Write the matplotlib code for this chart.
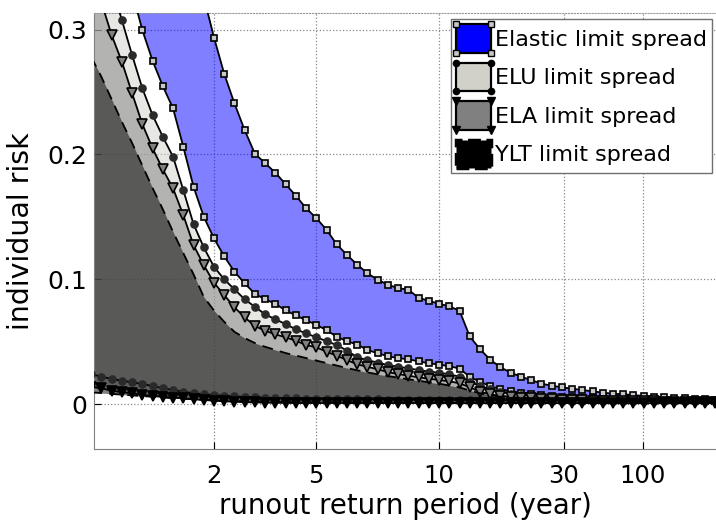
import numpy as np
import matplotlib
matplotlib.use("Agg")
import matplotlib.pyplot as plt
from matplotlib.patches import Rectangle
from matplotlib.lines import Line2D
from matplotlib.legend_handler import HandlerBase

plt.rcParams['font.family'] = ['DejaVu Sans']

# sample index along the runout axis (evenly spaced in the plot)
idx = np.arange(63)

# Elastic limit spread (upper / lower)
elastic_up = [0.60, 0.57, 0.54, 0.51, 0.48, 0.45, 0.42, 0.40, 0.38, 0.36, 0.345, 0.326,
              0.2936, 0.2645, 0.2408, 0.2194, 0.2005, 0.1930, 0.1853, 0.1762, 0.1669, 0.1570, 0.1490, 0.1397, 0.1280, 0.1195,
              0.1117, 0.1048, 0.0997, 0.0957, 0.0930, 0.0917, 0.0852, 0.0828, 0.0805, 0.0784, 0.0749, 0.0543, 0.0441,
              0.0357, 0.0296, 0.0253, 0.0221, 0.0194, 0.0165, 0.0149, 0.0136, 0.0125, 0.0114, 0.0104, 0.0093,
              0.0085, 0.0080, 0.0074, 0.0066, 0.0061, 0.0056, 0.0050, 0.0048, 0.0045, 0.0040, 0.0034, 0.0031]
elastic_lo = [0.42, 0.40, 0.38, 0.355, 0.33,
              0.2994, 0.2749, 0.2546, 0.2368, 0.2061, 0.1741, 0.1501, 0.1328, 0.1184,
              0.1061, 0.0968, 0.0884, 0.0840, 0.0804, 0.0751, 0.0712, 0.0672, 0.0637, 0.0593, 0.0541, 0.0505,
              0.0478, 0.0435, 0.0408, 0.0385, 0.0369, 0.0361, 0.0343, 0.0329, 0.0317, 0.0305, 0.0286,
              0.0220, 0.0180, 0.0145, 0.0120, 0.0105, 0.0093, 0.0083, 0.0075, 0.0068, 0.0062,
              0.0057, 0.0053, 0.0050, 0.0047, 0.0044, 0.0042, 0.0040, 0.0038, 0.0036, 0.0034,
              0.0033, 0.0032, 0.0031, 0.0030, 0.0029, 0.0028]

# ELU limit spread
elu_up = [0.385, 0.36, 0.335, 0.3074, 0.2794, 0.2528, 0.2314, 0.2141, 0.1981, 0.1714, 0.1442, 0.1256,
          0.110, 0.100, 0.092, 0.084, 0.078, 0.072, 0.068, 0.0642, 0.060, 0.0568, 0.0536, 0.0506, 0.0474,
          0.0430, 0.0376, 0.0354, 0.0333, 0.0314, 0.0301, 0.0288, 0.0274, 0.0261, 0.0253, 0.0240, 0.0221, 0.0181, 0.0146,
          0.0120, 0.0098, 0.0085, 0.0075, 0.0067, 0.0060, 0.0055, 0.0050, 0.0047, 0.0044, 0.0041, 0.0039,
          0.0037, 0.0035, 0.0033, 0.0032, 0.0031, 0.0030, 0.0029, 0.0028, 0.0027, 0.0026, 0.0025, 0.0025]
elu_lo = [0.0240, 0.0221, 0.0202, 0.0189, 0.0176, 0.0162, 0.0146, 0.0128, 0.0114, 0.0101, 0.0088,
          0.0080, 0.0074, 0.0068, 0.0063, 0.0059, 0.0056, 0.0053, 0.0051, 0.0049, 0.0047,
          0.0046, 0.0045, 0.0044, 0.0043, 0.0042, 0.0041, 0.0040, 0.0039, 0.0038, 0.0037,
          0.0036, 0.0036, 0.0035, 0.0034, 0.0034, 0.0033, 0.0033, 0.0032, 0.0032, 0.0031,
          0.0031, 0.0030, 0.0030, 0.0029, 0.0029, 0.0028, 0.0028, 0.0028, 0.0027, 0.0027,
          0.0027, 0.0026, 0.0026, 0.0026, 0.0025, 0.0025, 0.0025, 0.0024, 0.0024, 0.0024,
          0.0023, 0.0023]

# ELA limit spread
ela_up = [0.345, 0.3216, 0.2954, 0.2741, 0.2488, 0.2242, 0.2048, 0.1880, 0.1728, 0.1514, 0.1274,
          0.1114, 0.0973, 0.0874, 0.0776, 0.0696, 0.0626, 0.0589, 0.0560, 0.0536, 0.0509, 0.0474, 0.0456, 0.0421, 0.0389, 0.0354,
          0.032, 0.030, 0.028, 0.0258, 0.0242, 0.0229, 0.0216, 0.0205, 0.0194, 0.0184, 0.0168, 0.0136, 0.0101,
          0.0080, 0.0068, 0.0060, 0.0053, 0.0048, 0.0044, 0.0040, 0.0037, 0.0034, 0.0032, 0.0030, 0.0028,
          0.0027, 0.0026, 0.0025, 0.0024, 0.0023, 0.0022, 0.0022, 0.0021, 0.0021, 0.0020, 0.0020, 0.0020]
ela_lo = [0.0140, 0.0128, 0.0109, 0.0096, 0.0088, 0.0074, 0.0069, 0.0060, 0.0053, 0.0048, 0.0040,
          0.0034, 0.0029, 0.0024, 0.0020, 0.0017, 0.0015, 0.0013, 0.0012, 0.0011, 0.0010,
          0.0010, 0.0010, 0.0010, 0.0010, 0.0010, 0.0010, 0.0010, 0.0010, 0.0010, 0.0010,
          0.0010, 0.0010, 0.0010, 0.0010, 0.0010, 0.0009, 0.0009, 0.0009, 0.0009, 0.0009,
          0.0009, 0.0009, 0.0009, 0.0009, 0.0009, 0.0009, 0.0009, 0.0009, 0.0009, 0.0009,
          0.0008, 0.0008, 0.0008, 0.0008, 0.0008, 0.0008, 0.0008, 0.0008, 0.0008, 0.0008,
          0.0008, 0.0008]

# YLT limit spread
ylt_up = [0.278, 0.262, 0.244, 0.226, 0.209, 0.191, 0.173, 0.156, 0.138, 0.121, 0.104, 0.086,
          0.075, 0.066, 0.058, 0.053, 0.049,
          0.046, 0.0435, 0.041, 0.039, 0.037, 0.035, 0.033, 0.031, 0.029, 0.0272, 0.0255, 0.024,
          0.0226, 0.0213, 0.020, 0.0188, 0.0176, 0.0165, 0.015, 0.0135, 0.011, 0.0088, 0.0072, 0.006,
          0.0050, 0.0043, 0.0037, 0.0032, 0.0028, 0.0025, 0.0022, 0.0020, 0.0019, 0.0018, 0.0017,
          0.0016, 0.0016, 0.0015, 0.0015, 0.0014, 0.0014, 0.0013, 0.0013, 0.0013, 0.0012, 0.0012]
ylt_lo = [0.0095, 0.0090, 0.0083, 0.0077, 0.0071, 0.0065, 0.0060, 0.0054, 0.0049, 0.0044, 0.0040,
          0.0036, 0.0032, 0.0029, 0.0026, 0.0024, 0.0022, 0.0020, 0.0019, 0.0018, 0.0017,
          0.0016, 0.0016, 0.0016, 0.0015, 0.0015, 0.0015, 0.0014, 0.0014, 0.0014, 0.0014,
          0.0013, 0.0013, 0.0013, 0.0013, 0.0013, 0.0012, 0.0012, 0.0012, 0.0012, 0.0012,
          0.0012, 0.0011, 0.0011, 0.0011, 0.0011, 0.0011, 0.0011, 0.0011, 0.0011, 0.0010,
          0.0010, 0.0010, 0.0010, 0.0010, 0.0010, 0.0010, 0.0010, 0.0010, 0.0010, 0.0010,
          0.0010, 0.0010]

series_names = ["Elastic limit spread", "ELU limit spread", "ELA limit spread", "YLT limit spread"]
period_labels = ["2", "5", "10", "30", "100"]
period_pos = [12, 22, 34, 46.2, 53.9]
risk_ticks = [0, 0.1, 0.2, 0.3]
risk_labels = ["0", "0.1", "0.2", "0.3"]

blue = (0, 0, 1)
light = (0.82, 0.82, 0.79)
mid = (0.5, 0.5, 0.5)


class CornerHandler(HandlerBase):
    # legend patch with the line markers on its corners (matlab look)
    def __init__(self, fc, ls, marker, mfc, ms):
        super().__init__()
        self.fc, self.ls, self.marker, self.mfc, self.ms = fc, ls, marker, mfc, ms

    def create_artists(self, legend, orig_handle, xdescent, ydescent, width, height, fontsize, trans):
        x0, y0 = -xdescent, -ydescent
        r = Rectangle((x0, y0), width, height, facecolor=self.fc, edgecolor='k',
                      lw=1.6 if self.ls == '-' else 2.5, ls=self.ls, transform=trans)
        arts = [r]
        if self.marker:
            m = Line2D([x0, x0 + width, x0 + width, x0], [y0, y0, y0 + height, y0 + height],
                       ls='none', marker=self.marker, ms=self.ms, mfc=self.mfc, mec='k',
                       transform=trans)
            arts.append(m)
        return arts


fig = plt.figure(figsize=(7.16, 5.25), dpi=100)
ax = fig.add_axes([94 / 716, 76.5 / 525, 622 / 716, 435.1 / 525])

h1 = ax.fill_between(idx, elastic_lo, elastic_up, color=blue, alpha=0.5, lw=0, zorder=1)
h2 = ax.fill_between(idx, elu_lo, elu_up, color=light, alpha=0.5, lw=0, zorder=1)
h3 = ax.fill_between(idx, ela_lo, ela_up, color=mid, alpha=0.5, lw=0, zorder=1)
h4 = ax.fill_between(idx, ylt_lo, ylt_up, color='k', alpha=0.5, lw=0, zorder=1)

for y in (elastic_lo, elastic_up):
    ax.plot(idx, y, '-', color='k', lw=1.3, marker='s', ms=4.6, mfc='#c8c8c8', mec='k', mew=1.2, zorder=3)
for y in (elu_lo, elu_up):
    ax.plot(idx, y, '-', color='k', lw=1.3, marker='o', ms=5.2, mfc='#2a2a2a', mec='#2a2a2a', zorder=3)
ax.plot(idx, ela_up, '-', color='k', lw=1.3, marker='v', ms=7, mfc='#808080', mec='k', mew=1.2, zorder=3)
ax.plot(idx, ela_lo, '-', color='k', lw=1.3, marker='v', ms=7, mfc='k', mec='k', mew=1.2, zorder=3)
for y in (ylt_lo, ylt_up):
    ax.plot(idx, y, '--', color='k', lw=1.3, dashes=(6, 4), zorder=3)

ax.set_xlim(0.27, 61.07)
ax.set_ylim(-0.0354, 0.3129)
ax.set_xticks(period_pos)
ax.set_xticklabels(period_labels)
ax.set_yticks(risk_ticks)
ax.set_yticklabels(risk_labels)
ax.tick_params(axis='x', direction='in', length=5, labelsize=17.5, colors='k', pad=11)
ax.tick_params(axis='y', direction='in', length=5, labelsize=18, colors='k', pad=5)
ax.grid(True, ls=':', color='#888888', lw=0.9)
ax.set_axisbelow(True)

ax.spines['right'].set_visible(False)
ax.spines['top'].set_linestyle(':')
ax.spines['top'].set_color('#999999')
for s in ('left', 'bottom'):
    ax.spines[s].set_color('#808080')

ax.set_xlabel("runout return period (year)", fontsize=19.8, labelpad=3)
ax.set_ylabel("individual risk", fontsize=20.5, labelpad=9)

leg = ax.legend([h1, h2, h3, h4], series_names, loc='upper right',
                bbox_to_anchor=(0.9936, 0.987), borderaxespad=0, fontsize=16,
                fancybox=False, edgecolor='#707070', framealpha=1,
                handlelength=1.58, handleheight=1.6, handletextpad=0.18,
                labelspacing=0.45, borderpad=0.22,
                handler_map={h1: CornerHandler(blue, '-', 's', '#c8c8c8', 4),
                             h2: CornerHandler(light, '-', 'o', 'k', 4.5),
                             h3: CornerHandler(mid, '-', 'v', 'k', 5.5),
                             h4: CornerHandler('k', '--', None, None, 0)})
leg.get_frame().set_linewidth(1.0)

fig.savefig("out.png", dpi=100)
